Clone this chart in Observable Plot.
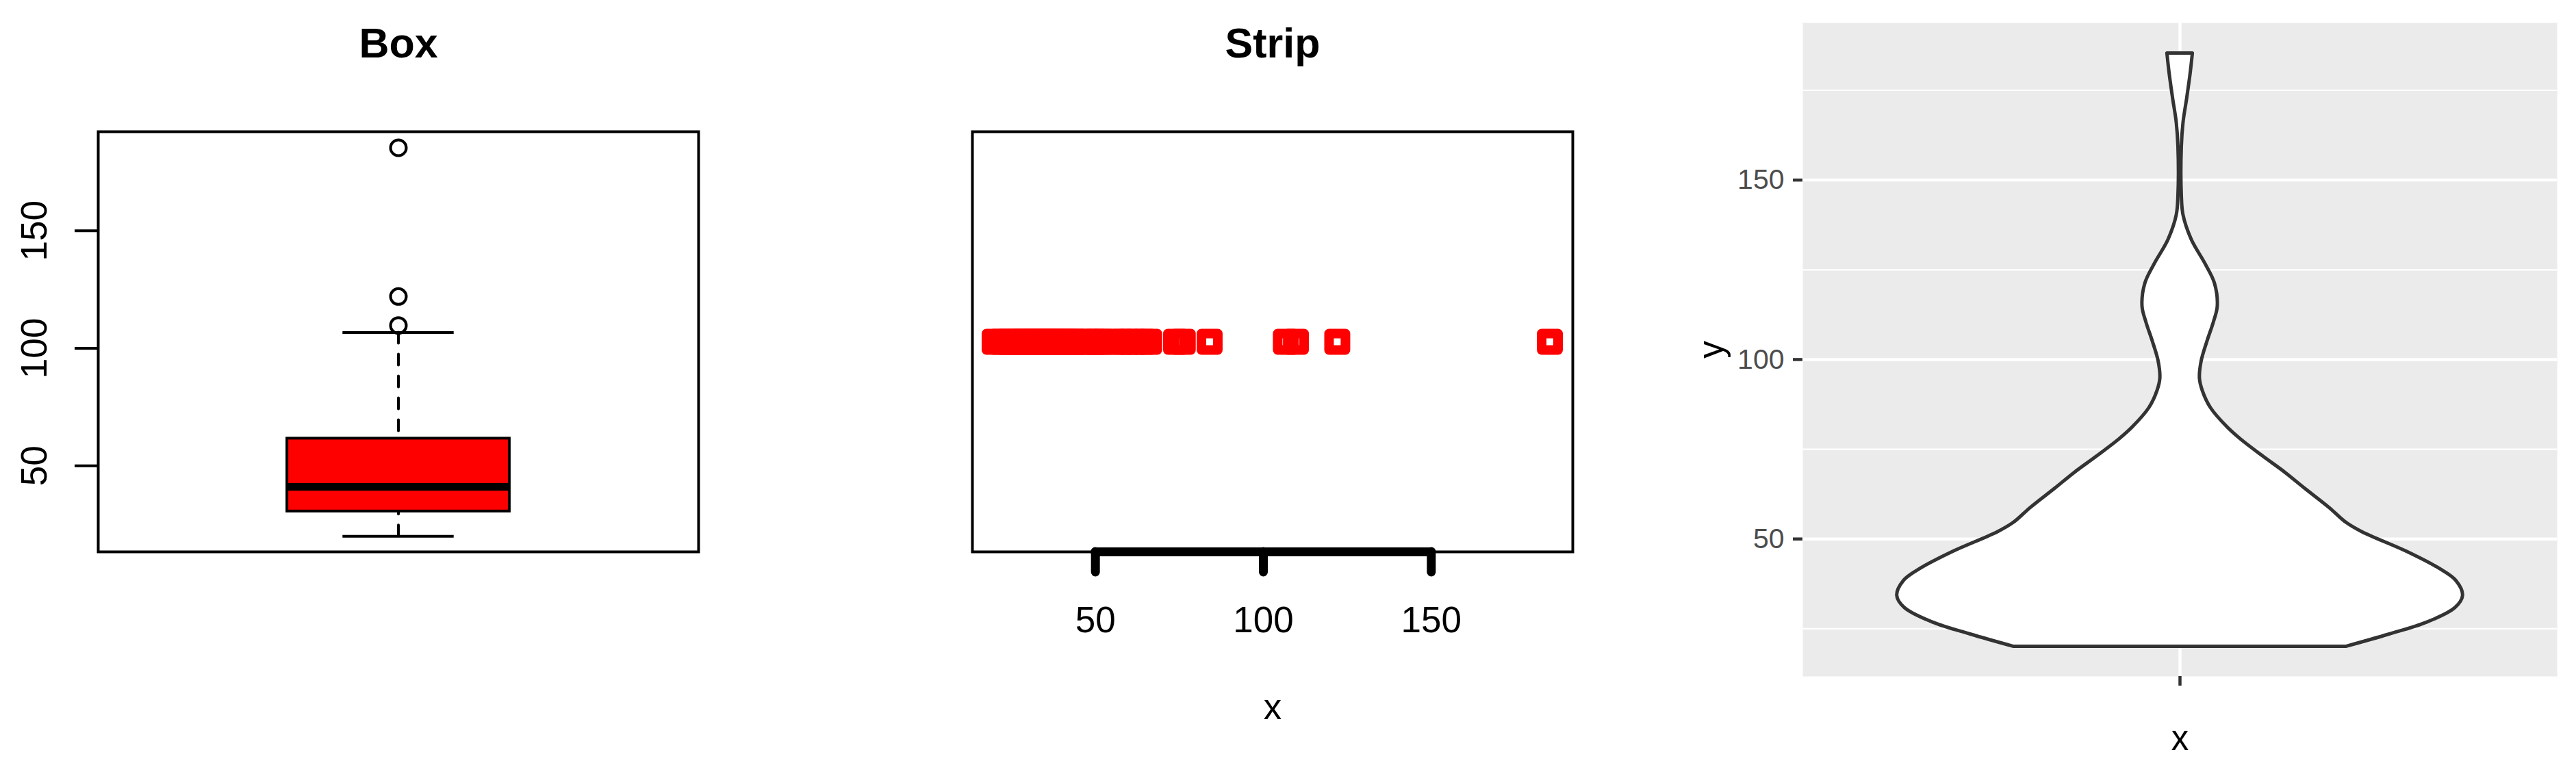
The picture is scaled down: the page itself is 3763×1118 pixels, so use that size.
<!DOCTYPE html>
<html>
<head>
<meta charset="utf-8">
<script src="https://cdn.jsdelivr.net/npm/d3@7"></script>
<script src="https://cdn.jsdelivr.net/npm/@observablehq/plot@0.6"></script>
<style>
html, body { margin: 0; padding: 0; background: #fff; }
#wrap { position: relative; width: 3763px; height: 1118px; overflow: hidden; background: #fff; }
.panel { position: absolute; top: 0; }
.panel svg { display: block; max-width: none; overflow: visible; }
</style>
</head>
<body>
<div id="wrap"></div>
<script>
// ---------------- data ----------------
const titles = ["Box", "Strip"];
// boxplot statistics: lower whisker, Q1, median, Q3, upper whisker
const boxStats = [20, 30.6, 41, 61.6, 106.7];
const boxOutliers = [109.7, 122, 185.3];
// individual observations for the strip chart
const stripValues = [20, 22, 24, 25, 27, 28, 29, 30, 31, 32, 33, 34, 35, 35.5, 36, 37, 38, 39, 40, 41,
  42, 43, 44, 46, 48, 50, 51, 52.4, 56, 58, 60, 62, 66, 64.4, 74, 76, 84, 106.7, 109.7, 122, 185.3];
const baseTicks = [50, 100, 150];
// violin outline: y value and relative half-width (1 = widest)
const violinY = [20, 23.4, 26.8, 30.8, 34.2, 38.3, 41.7, 46.5, 51.9, 54.6, 58.7, 64.1, 68.5, 73.0, 77.7,
  81.1, 86.5, 91.3, 94.7, 99.5, 104.9, 110.3, 114.8, 121.2, 126.6, 133.4, 140.2, 145.7, 159.2, 166,
  172.8, 179.6, 185.3];
const violinWidth = [0.587, 0.739, 0.875, 0.973, 1.0, 0.977, 0.918, 0.801, 0.645, 0.587, 0.528, 0.441,
  0.372, 0.294, 0.216, 0.168, 0.109, 0.080, 0.070, 0.076, 0.096, 0.119, 0.133, 0.123, 0.090, 0.041,
  0.012, 0.006, 0.006, 0.012, 0.025, 0.037, 0.045];
const ggMajor = [50, 100, 150];
const ggMinor = [25, 75, 125, 175];
const axisTitles = {x: "x", y: "y"};

// ---------------- helpers ----------------
const FONT = '"Liberation Sans", Arial, Helvetica, sans-serif';
const wrap = document.getElementById("wrap");
function place(svg, left) {
  const d = document.createElement("div");
  d.className = "panel";
  d.style.left = left + "px";
  d.appendChild(svg);
  wrap.appendChild(d);
}
const lwd = 4;

// ---------------- panel 1 : Box ----------------
const boxPlot = Plot.plot({
  width: 1254, height: 1118,
  marginLeft: 143, marginRight: 234, marginTop: 192, marginBottom: 312,
  style: {fontFamily: FONT, background: "transparent", overflow: "visible"},
  x: {domain: [0.46, 1.54], axis: null},
  y: {domain: [13.38, 192.12], label: null},
  marks: [
    Plot.ruleX([[boxStats[4], boxStats[3]], [boxStats[0], boxStats[1]]], {
      x: 1, y1: d => d[0], y2: d => d[1], stroke: "black", strokeWidth: lwd,
      strokeDasharray: "16,16", strokeLinecap: "round"
    }),
    Plot.rect([boxStats], {
      x1: 0.8, x2: 1.2, y1: d => d[1], y2: d => d[3],
      fill: "#FF0000", stroke: "black", strokeWidth: lwd
    }),
    Plot.ruleY([boxStats[2]], {x1: 0.8, x2: 1.2, y: d => d, stroke: "black", strokeWidth: 11}),
    Plot.ruleY([boxStats[0], boxStats[4]], {x1: 0.9, x2: 1.1, y: d => d, stroke: "black", strokeWidth: lwd}),
    Plot.dot(boxOutliers, {x: 1, y: d => d, r: 11.5, stroke: "black", strokeWidth: lwd, fill: "none"}),
    Plot.axisY({ticks: baseTicks, tickSize: 34, stroke: "black", strokeWidth: lwd, tickFormat: () => "", label: null}),
    Plot.text(baseTicks, {
      y: d => d, text: d => String(d), frameAnchor: "left", dx: -76, rotate: -90,
      textAnchor: "middle", lineAnchor: "bottom", fontSize: 53, fill: "black"
    }),
    Plot.text([titles[0]], {
      text: d => d, frameAnchor: "top", dy: -109, lineAnchor: "bottom",
      fontSize: 61, fontWeight: "bold", fill: "black"
    }),
    Plot.frame({stroke: "black", strokeWidth: lwd})
  ]
});
place(boxPlot, 0);

// ---------------- panel 2 : Strip ----------------
const stripPlot = Plot.plot({
  width: 1254, height: 1118,
  marginLeft: 166, marginRight: 211, marginTop: 192, marginBottom: 312,
  style: {fontFamily: FONT, background: "transparent", overflow: "visible"},
  x: {domain: [13.38, 192.12], label: null},
  y: {domain: [0, 2], axis: null},
  marks: [
    Plot.dot(stripValues, {
      x: d => d, y: 1, symbol: "square", r: 13.5, fill: "none",
      stroke: "#FF0000", strokeWidth: 14, strokeLinejoin: "round"
    }),
    Plot.frame({stroke: "black", strokeWidth: lwd}),
    Plot.ruleY([0], {
      x1: baseTicks[0], x2: baseTicks[baseTicks.length - 1], y: d => d,
      stroke: "black", strokeWidth: 13, strokeLinecap: "round"
    }),
    Plot.axisX({
      ticks: baseTicks, tickSize: 30, tickPadding: 50, stroke: "black", strokeWidth: 13,
      strokeLinecap: "round", fontSize: 53, fill: "black", label: null
    }),
    Plot.text([axisTitles.x], {
      text: d => d, frameAnchor: "bottom", dy: 244, lineAnchor: "bottom", fontSize: 53, fill: "black"
    }),
    Plot.text([titles[1]], {
      text: d => d, frameAnchor: "top", dy: -109, lineAnchor: "bottom",
      fontSize: 61, fontWeight: "bold", fill: "black"
    })
  ]
});
place(stripPlot, 1254);

// ---------------- panel 3 : ggplot violin ----------------
const violinRows = violinY.map((y, i) => ({y, w: violinWidth[i]}));
const violinPlot = Plot.plot({
  width: 1255, height: 1118,
  marginLeft: 125, marginRight: 28, marginTop: 33, marginBottom: 130,
  style: {fontFamily: FONT, background: "transparent", overflow: "visible"},
  x: {domain: [0.4, 1.6], label: null},
  y: {domain: [11.72, 193.78], label: null},
  marks: [
    Plot.frame({fill: "#EBEBEB", stroke: "none"}),
    Plot.ruleY(ggMinor, {y: d => d, stroke: "white", strokeWidth: 2.2}),
    Plot.ruleY(ggMajor, {y: d => d, stroke: "white", strokeWidth: 4.4}),
    Plot.ruleX([1], {x: d => d, stroke: "white", strokeWidth: 4.4}),
    Plot.areaX(violinRows, {
      y: "y", x1: d => 1 - 0.45 * d.w, x2: d => 1 + 0.45 * d.w,
      fill: "white", stroke: "#333333", strokeWidth: 5, curve: "catmull-rom"
    }),
    Plot.axisY({
      ticks: ggMajor, tickSize: 14, tickPadding: 13, stroke: "#333333", strokeWidth: 4.5,
      fill: "#4D4D4D", fontSize: 41, label: null
    }),
    Plot.axisX({ticks: [1], tickSize: 14, stroke: "#333333", strokeWidth: 4.5, tickFormat: () => "", label: null}),
    Plot.text([axisTitles.y], {
      text: d => d, frameAnchor: "left", dx: -117, rotate: -90, lineAnchor: "bottom",
      textAnchor: "middle", fontSize: 51, fill: "black"
    }),
    Plot.text([axisTitles.x], {
      text: d => d, frameAnchor: "bottom", dy: 107, lineAnchor: "bottom", fontSize: 51, fill: "black"
    })
  ]
});
place(violinPlot, 2508);
</script>
</body>
</html>
